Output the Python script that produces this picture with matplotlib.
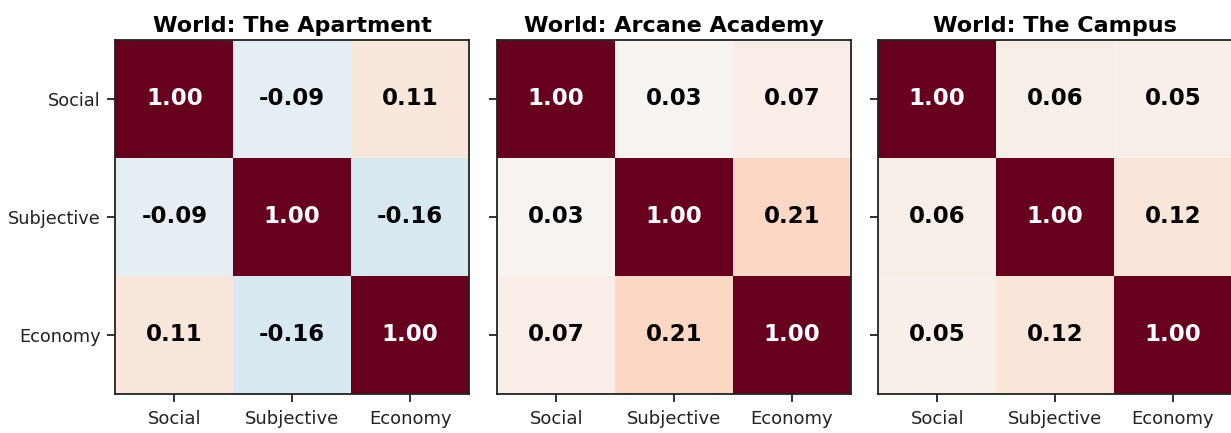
import matplotlib
matplotlib.use("Agg")
import matplotlib.pyplot as plt
import numpy as np

labels = ["Social", "Subjective", "Economy"]
worlds = ["The Apartment", "Arcane Academy", "The Campus"]

apartment = [[1.00, -0.09, 0.11],
             [-0.09, 1.00, -0.16],
             [0.11, -0.16, 1.00]]
arcane = [[1.00, 0.03, 0.07],
          [0.03, 1.00, 0.21],
          [0.07, 0.21, 1.00]]
campus = [[1.00, 0.06, 0.05],
          [0.06, 1.00, 0.12],
          [0.05, 0.12, 1.00]]

mats = [apartment, arcane, campus]

fig = plt.figure(figsize=(12.31, 4.33), dpi=100)
lefts = [0.0938, 0.404, 0.7135]
w, h, b = 0.2872, 0.8164, 0.0912

for i, (name, m) in enumerate(zip(worlds, mats)):
    ax = fig.add_axes([lefts[i], b, w, h])
    m = np.array(m)
    ax.imshow(m, cmap="RdBu_r", vmin=-1, vmax=1, aspect="auto")
    for r in range(3):
        for c in range(3):
            v = m[r, c]
            col = "white" if abs(v) > 0.5 else "black"
            ax.text(c, r, f"{v:.2f}", ha="center", va="center",
                    fontsize=16.5, fontweight="bold", color=col)
    ax.set_xticks(range(3))
    ax.set_xticklabels(labels, fontsize=13, color="#222222")
    ax.set_yticks(range(3))
    if i == 0:
        ax.set_yticklabels(labels, fontsize=12.8, color="#222222")
    else:
        ax.set_yticklabels([])
    ax.tick_params(axis="x", length=6, width=1.3, pad=6, color="#222222")
    ax.tick_params(axis="y", length=6, width=1.3, pad=4.5, color="#222222")
    for s in ax.spines.values():
        s.set_linewidth(1.3)
        s.set_color("#222222")
    ax.set_title(f"World: {name}", fontsize=16, fontweight="bold", pad=6)

fig.savefig("out.png", dpi=100)
